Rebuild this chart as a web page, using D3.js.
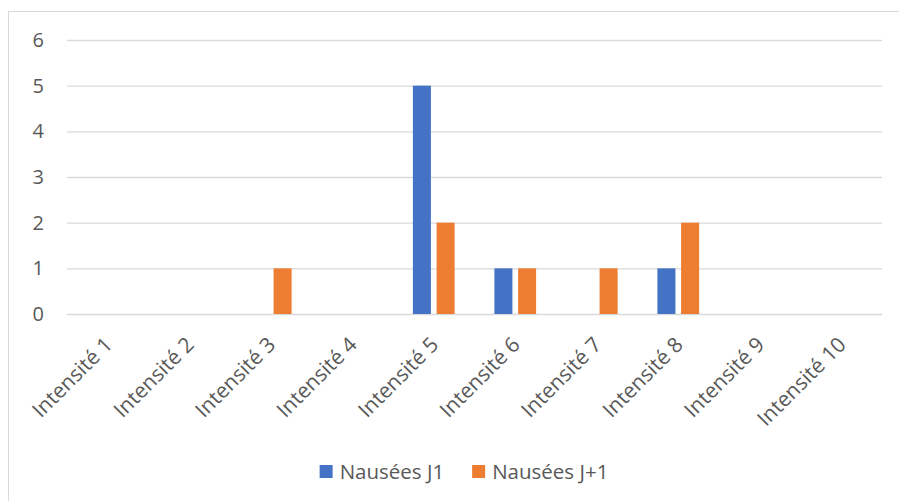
<!doctype html>
<html>
<head>
<meta charset="utf-8">
<style>
    body { margin: 0; background: #fff; }
    text { font-family: "Open Sans", sans-serif; fill: #595959; }
</style>
<script src="https://d3js.org/d3.v7.min.js"></script>
</head>
<body>
<svg width="899" height="501"></svg>
<script>
    var categories = ["Intensité 1", "Intensité 2", "Intensité 3", "Intensité 4", "Intensité 5",
                      "Intensité 6", "Intensité 7", "Intensité 8", "Intensité 9", "Intensité 10"];
    var seriesNames = ["Nausées J1", "Nausées J+1"];
    var nauseesJ1 = [0, 0, 0, 0, 5, 1, 0, 1, 0, 0];
    var nauseesJ2 = [0, 0, 1, 0, 2, 1, 1, 2, 0, 0];
    var yTicks = [0, 1, 2, 3, 4, 5, 6];
    var colors = ["#4472C4", "#ED7D31"];

    var svg = d3.select("svg");

    // chart border
    svg.append("rect")
       .attr("x", 8.5).attr("y", 11.5)
       .attr("width", 900).attr("height", 500)
       .attr("fill", "none")
       .attr("stroke", "#D9D9D9");

    var plotL = 67, plotR = 882, plotT = 40, plotB = 314;

    var x0 = d3.scaleBand().domain(categories).range([plotL, plotR])
               .paddingInner(0.488).paddingOuter(0.244);
    var x1 = d3.scaleBand().domain(seriesNames).range([0, x0.bandwidth()]).paddingInner(0.24);
    var y = d3.scaleLinear().domain([0, 6]).range([plotB, plotT]);

    // gridlines + y labels
    var yAxis = svg.append("g")
       .attr("transform", "translate(" + plotL + ",0)")
       .call(d3.axisLeft(y).tickValues(yTicks).tickFormat(d3.format("d"))
               .tickSize(-(plotR - plotL)).tickPadding(23));
    yAxis.select(".domain").remove();
    yAxis.selectAll("line").attr("stroke", "#D9D9D9").attr("stroke-width", 1.3);
    yAxis.selectAll("text").attr("font-size", "20px").attr("fill", "#595959")
         .style("font-family", '"Open Sans", sans-serif');

    var rows = categories.map(function(c, i) {
        return { cat: c, values: [nauseesJ1[i], nauseesJ2[i]] };
    });

    // bars
    var groups = svg.selectAll(".grp")
       .data(rows)
       .enter().append("g")
       .attr("class", "grp")
       .attr("transform", function(d) { return "translate(" + x0(d.cat) + ",0)"; });

    groups.selectAll("rect")
       .data(function(d) { return d.values.map(function(v, j) { return { name: seriesNames[j], v: v, j: j }; }); })
       .enter().append("rect")
       .filter(function(d) { return d.v > 0; })
       .attr("x", function(d) { return x1(d.name); })
       .attr("y", function(d) { return y(d.v); })
       .attr("width", x1.bandwidth())
       .attr("height", function(d) { return y(0) - y(d.v); })
       .attr("fill", function(d) { return colors[d.j]; });

    // x labels rotated
    svg.append("g").selectAll("text")
       .data(categories)
       .enter().append("text")
       .attr("transform", function(d) {
           var cx = x0(d) + x0.bandwidth() / 2 + 6;
           return "translate(" + cx + ",346) rotate(-45)";
       })
       .attr("text-anchor", "end")
       .attr("font-size", "21px")
       .text(function(d) { return d; });

    // legend
    var legend = svg.append("g");
    var items = legend.selectAll("g")
       .data(seriesNames)
       .enter().append("g");
    items.append("rect")
       .attr("width", 13).attr("height", 13)
       .attr("y", 465)
       .attr("fill", function(d, i) { return colors[i]; });
    items.append("text")
       .attr("x", 20).attr("y", 479)
       .attr("font-size", "20.5px")
       .text(function(d) { return d; });

    var widths = [];
    items.each(function(d) {
        widths.push(20 + d3.select(this).select("text").node().getComputedTextLength());
    });
    var total = d3.sum(widths) + 28 * (widths.length - 1);
    var start = 464 - total / 2;
    items.attr("transform", function(d, i) {
        var t = "translate(" + start + ",0)";
        start += widths[i] + 28;
        return t;
    });
</script>
</body>
</html>
